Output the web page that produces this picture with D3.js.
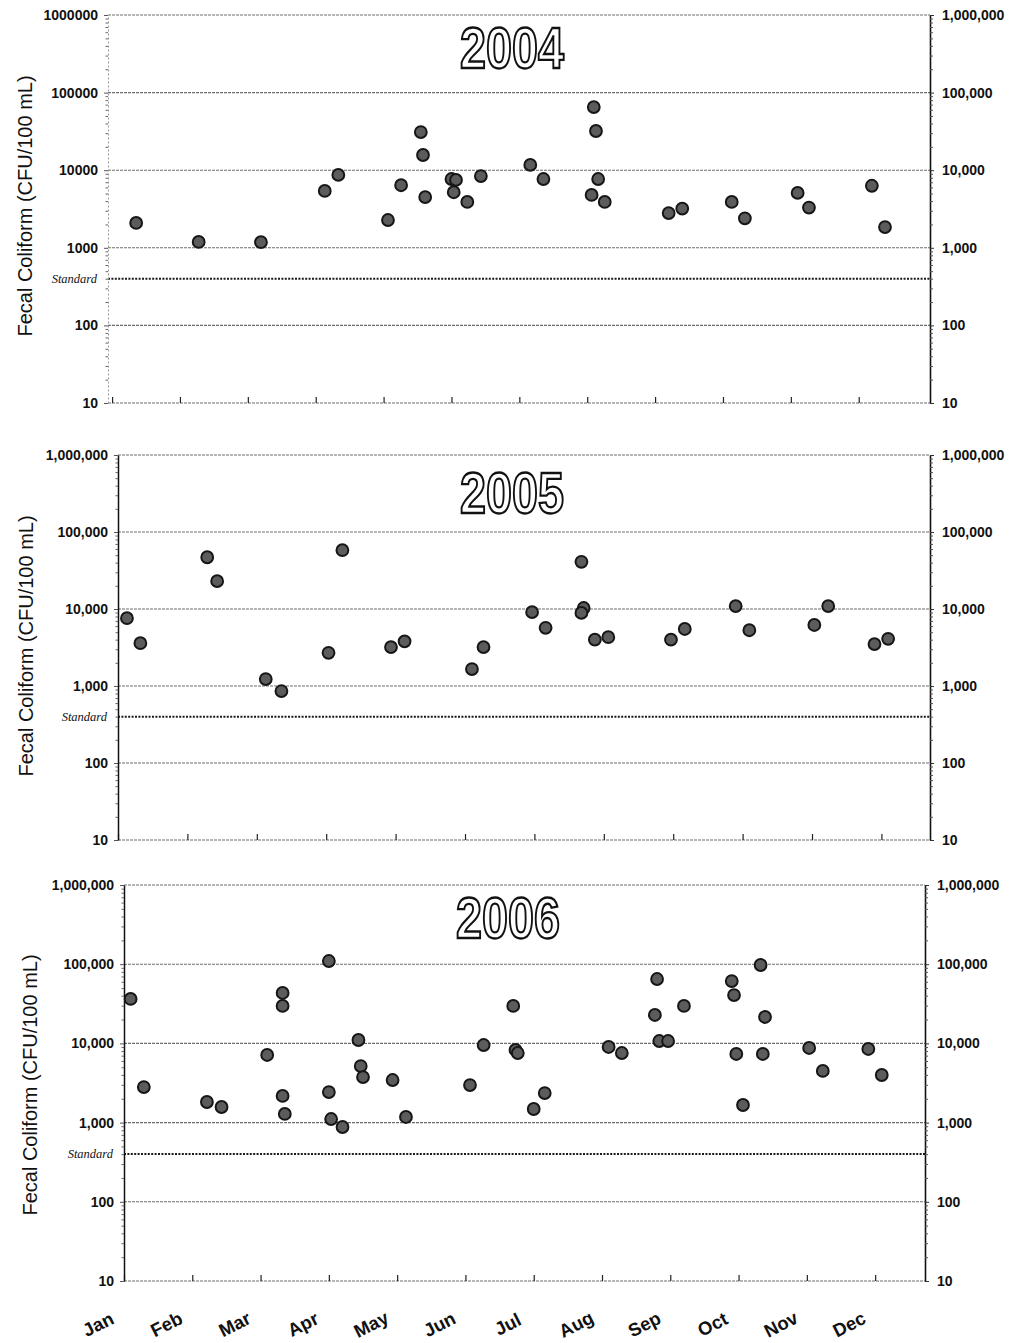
<!DOCTYPE html>
<html><head><meta charset="utf-8">
<script src="https://cdn.jsdelivr.net/npm/d3@7"></script>
<style>body{margin:0;background:#fff}svg{display:block}</style>
</head><body>
<script>
// ---------- data ----------
const months = ["Jan","Feb","Mar","Apr","May","Jun","Jul","Aug","Sep","Oct","Nov","Dec"];
const yTicks = [10, 100, 1000, 10000, 100000, 1000000];
const standardValue = 400;
const years = ["2004", "2005", "2006"];

const dates2004 = ["2004-01-12","2004-02-09","2004-03-07","2004-04-05","2004-04-11","2004-05-03","2004-05-09",
  "2004-05-18","2004-05-19","2004-05-20","2004-06-01","2004-06-03","2004-06-02","2004-06-08","2004-06-14",
  "2004-07-06","2004-07-12","2004-08-04","2004-08-05","2004-08-06","2004-08-03","2004-08-09","2004-09-07",
  "2004-09-13","2004-10-05","2004-10-11","2004-11-04","2004-11-09","2004-12-07","2004-12-13"];
const fc2004 = [2090,1190,1180,5400,8700,2280,6400,31000,15700,4500,7700,7500,5200,3900,8400,
  11700,7700,65000,32000,7700,4800,3900,2800,3200,3900,2400,5100,3300,6300,1850];

const dates2005 = ["2005-01-05","2005-01-11","2005-02-09","2005-02-13","2005-03-05","2005-03-12","2005-04-02",
  "2005-04-08","2005-04-29","2005-05-05","2005-06-04","2005-06-09","2005-06-30","2005-07-06","2005-07-22",
  "2005-07-23","2005-07-22","2005-07-28","2005-08-03","2005-08-31","2005-09-06","2005-09-28","2005-10-04",
  "2005-11-02","2005-11-08","2005-11-28","2005-12-04"];
const fc2005 = [7600,3600,47000,23000,1230,860,2700,58000,3200,3800,1660,3200,9100,5700,41000,
  10300,8900,4000,4300,4000,5500,10900,5300,6200,10900,3500,4100];

const dates2006 = ["2006-01-04","2006-01-10","2006-02-07","2006-02-13","2006-03-04","2006-03-11","2006-03-11",
  "2006-03-11","2006-03-12","2006-04-01","2006-04-01","2006-04-02","2006-04-07","2006-04-14","2006-04-15",
  "2006-04-16","2006-04-29","2006-05-05","2006-06-03","2006-06-09","2006-06-22","2006-06-23","2006-06-24",
  "2006-07-01","2006-07-06","2006-08-04","2006-08-10","2006-08-26","2006-08-25","2006-08-27","2006-08-31",
  "2006-09-07","2006-09-28","2006-09-29","2006-09-30","2006-10-03","2006-10-11","2006-10-13","2006-10-12",
  "2006-11-02","2006-11-08","2006-11-28","2006-12-04"];
const fc2006 = [36400,2810,1820,1574,7140,43300,29700,2170,1285,109700,2430,1110,880,11040,5180,
  3760,3450,1177,2980,9540,29700,8260,7560,1485,2360,9010,7560,65000,22850,10720,10720,
  29700,61300,40800,7350,1668,97700,21550,7350,8750,4490,8500,3990];

const seriesByYear = {"2004":[dates2004, fc2004], "2005":[dates2005, fc2005], "2006":[dates2006, fc2006]};

// ---------- layout ----------
const panels = [
  {top:15,  bottom:403,  left:108, right:930, m0:-0.06, m1:12.05, leftFmt:d3.format("d"), leftSolid:false,
   titleX:512, titleY:68,  ytx:32, yty:206},
  {top:455, bottom:840,  left:118, right:930, m0:0, m1:11.70, leftFmt:d3.format(","), leftSolid:true,
   titleX:512, titleY:513, ytx:33, yty:646},
  {top:885, bottom:1281, left:124, right:925, m0:0, m1:11.73, leftFmt:d3.format(","), leftSolid:true,
   titleX:508, titleY:938, ytx:37, yty:1085}
];

const FONT = "'Liberation Sans', Arial, Helvetica, sans-serif";
const parse = d3.timeParse("%Y-%m-%d");
function monthPos(s) {
  const d = parse(s);
  const dim = new Date(d.getFullYear(), d.getMonth() + 1, 0).getDate();
  return d.getMonth() + (d.getDate() - 1) / dim;
}

const minorTicks = [];
for (let k = 1; k < 6; k++) for (let m = 2; m <= 9; m++) minorTicks.push(m * Math.pow(10, k));

const svg = d3.select("body").append("svg").attr("width", 1011).attr("height", 1343)
  .style("font-family", FONT);

panels.forEach((p, i) => {
  const year = years[i];
  const [dates, vals] = seriesByYear[year];
  const x = d3.scaleLinear().domain([p.m0, p.m1]).range([p.left, p.right]);
  const y = d3.scaleLog().domain([10, 1e6]).range([p.bottom, p.top]);
  const g = svg.append("g");

  // grid lines at decades
  g.append("g").selectAll("line").data(yTicks).join("line")
    .attr("x1", p.left).attr("x2", p.right)
    .attr("y1", d => y(d)).attr("y2", d => y(d))
    .attr("stroke", "#6e6e6e").attr("stroke-width", 1.1).attr("stroke-dasharray", "3,1");

  // standard line
  g.append("line").attr("x1", p.left).attr("x2", p.right)
    .attr("y1", y(standardValue)).attr("y2", y(standardValue))
    .attr("stroke", "#1a1a1a").attr("stroke-width", 2).attr("stroke-dasharray", "2,1.4");
  g.append("text").attr("x", p.left - 11).attr("y", y(standardValue)).attr("dy", "0.33em")
    .attr("text-anchor", "end").style("font-family", "'Liberation Serif', 'Times New Roman', serif")
    .style("font-style", "italic").style("font-size", "12.5px").attr("fill", "#111").text("Standard");

  // bottom month ticks (upward)
  const bx = g.append("g").attr("transform", `translate(0,${p.bottom})`)
    .call(d3.axisBottom(x).tickValues(d3.range(12)).tickSize(-6).tickFormat(""));
  bx.select(".domain").remove();
  bx.selectAll(".tick line").attr("stroke", "#222").attr("stroke-width", 1.2);

  // left axis
  const la = g.append("g").attr("transform", `translate(${p.left},0)`)
    .call(d3.axisLeft(y).tickValues(yTicks).tickFormat(p.leftFmt).tickSize(4).tickSizeOuter(0).tickPadding(6));
  la.select(".domain").attr("stroke", p.leftSolid ? "#111" : "#999")
    .attr("stroke-width", p.leftSolid ? 1.5 : 1).attr("stroke-dasharray", p.leftSolid ? null : "2,2");
  la.selectAll(".tick line").attr("stroke", "#555");
  la.selectAll(".tick text").style("font-family", FONT).style("font-size", "14px")
    .style("font-weight", "bold").attr("fill", "#111");
  const lm = g.append("g").attr("transform", `translate(${p.left},0)`)
    .call(d3.axisLeft(y).tickValues(minorTicks).tickFormat("").tickSize(2.5).tickSizeOuter(0));
  lm.select(".domain").remove();
  lm.selectAll(".tick line").attr("stroke", "#666");

  // right axis
  const ra = g.append("g").attr("transform", `translate(${p.right},0)`)
    .call(d3.axisRight(y).tickValues(yTicks).tickFormat(d3.format(",")).tickSize(4).tickSizeOuter(0).tickPadding(8));
  ra.select(".domain").attr("stroke", "#111").attr("stroke-width", 1.6);
  ra.selectAll(".tick line").attr("stroke", "#333");
  ra.selectAll(".tick text").style("font-family", FONT).style("font-size", "14px")
    .style("font-weight", "bold").attr("fill", "#111");
  const rm = g.append("g").attr("transform", `translate(${p.right},0)`)
    .call(d3.axisRight(y).tickValues(minorTicks).tickFormat("").tickSize(3).tickSizeOuter(0));
  rm.select(".domain").remove();
  rm.selectAll(".tick line").attr("stroke", "#555");

  // y-axis title
  g.append("text").attr("transform", `translate(${p.ytx},${p.yty}) rotate(-90)`)
    .attr("text-anchor", "middle").style("font-size", "20px").attr("fill", "#111")
    .text("Fecal Coliform (CFU/100 mL)");

  // year title (outlined)
  g.append("text").attr("transform", `translate(${p.titleX},${p.titleY}) scale(0.82,1)`)
    .attr("text-anchor", "middle").style("font-size", "57px").style("font-weight", "bold")
    .attr("fill", "#fff").attr("stroke", "#111").attr("stroke-width", 2.3)
    .text(year);

  // points
  g.append("g").selectAll("circle").data(dates.map((d, j) => [monthPos(d), vals[j]])).join("circle")
    .attr("cx", d => x(d[0])).attr("cy", d => y(d[1])).attr("r", 5.9)
    .attr("fill", "#5c5c5c").attr("stroke", "#161616").attr("stroke-width", 2);

  // month labels below last panel
  if (i === panels.length - 1) {
    g.append("g").selectAll("text").data(months).join("text")
      .attr("transform", (d, j) => `translate(${x(j) - 23},${p.bottom + 49}) rotate(-27)`)
      .attr("text-anchor", "middle").style("font-size", "18.5px").style("font-weight", "bold")
      .attr("fill", "#111").text(d => d);
  }
});
</script>
</body></html>
